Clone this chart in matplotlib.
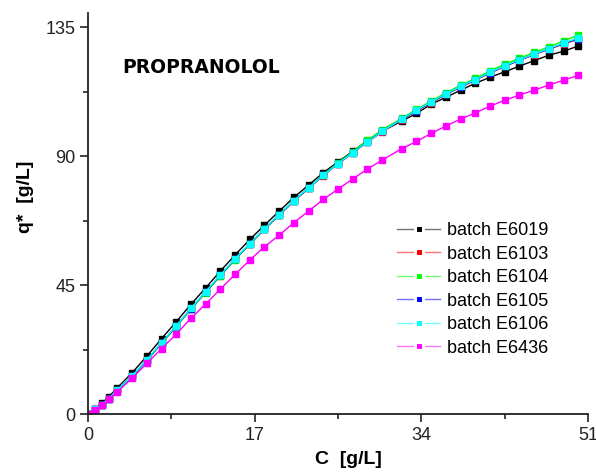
import numpy as np
import matplotlib
matplotlib.use("Agg")
import matplotlib.pyplot as plt
from matplotlib.lines import Line2D
from matplotlib.ticker import MultipleLocator
import matplotlib.colors as mcolors

plt.rcParams['font.family'] = ['Liberation Sans', 'DejaVu Sans']

# concentration C [g/L]
c = [0, 0.7, 1.4, 2.1, 3.0, 4.5, 6.0, 7.5, 9.0, 10.5, 12.0, 13.5, 15.0, 16.5,
     18.0, 19.5, 21.0, 22.5, 24.0, 25.5, 27.0, 28.5, 30.0, 32.0, 33.5, 35.0,
     36.5, 38.0, 39.5, 41.0, 42.5, 44.0, 45.5, 47.0, 48.5, 50.0]

q_e6019 = [0, 1.8, 3.8, 6.0, 9.3, 14.5, 20.3, 26.4, 32.3, 38.4, 44.1, 50.0, 55.6,
           61.0, 66.0, 70.9, 75.7, 80.0, 84.3, 88.1, 91.8, 95.5, 98.8, 102.3,
           105.0, 108.2, 110.6, 113.1, 115.5, 117.6, 119.5, 121.5, 123.4, 125.3,
           126.7, 128.5]
q_e6103 = [0, 1.7, 3.4, 5.4, 8.4, 13.2, 18.8, 24.8, 30.7, 36.8, 42.6, 48.4, 54.1,
           59.4, 64.6, 69.5, 74.4, 78.9, 83.3, 87.4, 91.2, 95.0, 98.6, 102.8,
           105.9, 108.8, 111.6, 114.2, 116.6, 119.1, 121.4, 123.5, 125.5, 127.4,
           129.2, 130.9]
q_e6104 = [0, 1.6, 3.3, 5.3, 8.3, 13.1, 18.7, 24.7, 30.6, 36.7, 42.5, 48.3, 54.0,
           59.3, 64.6, 69.6, 74.5, 79.1, 83.6, 87.8, 91.7, 95.6, 99.3, 103.3,
           106.4, 109.3, 112.2, 114.8, 117.2, 119.8, 122.2, 124.2, 126.3, 128.2,
           130.3, 132.3]
q_e6105 = [0, 1.7, 3.4, 5.5, 8.5, 13.3, 18.9, 24.9, 30.8, 36.9, 42.7, 48.5, 54.2,
           59.5, 64.7, 69.6, 74.5, 78.9, 83.4, 87.5, 91.3, 95.1, 98.7, 102.9,
           106.0, 108.9, 111.7, 114.3, 116.7, 119.2, 121.5, 123.6, 125.6, 127.5,
           129.4, 131.1]
q_e6106 = [0, 1.7, 3.4, 5.5, 8.6, 13.4, 19.0, 25.0, 30.9, 37.0, 42.8, 48.6, 54.3,
           59.6, 64.8, 69.7, 74.6, 79.0, 83.4, 87.5, 91.3, 95.1, 98.7, 103.0,
           106.1, 109.0, 111.8, 114.4, 116.8, 119.3, 121.6, 123.7, 125.7, 127.6,
           129.5, 131.3]
q_e6436 = [0, 1.5, 3.2, 5.2, 7.9, 12.6, 17.8, 22.9, 28.0, 33.5, 38.5, 43.7, 48.8,
           53.8, 58.5, 62.5, 66.9, 70.9, 75.0, 78.6, 82.1, 85.6, 88.7, 92.7,
           95.2, 98.0, 100.6, 103.0, 105.2, 107.5, 109.6, 111.4, 113.1, 114.9,
           116.6, 118.3]

labels = ['batch E6019', 'batch E6103', 'batch E6104', 'batch E6105',
          'batch E6106', 'batch E6436']
series = [q_e6019, q_e6103, q_e6104, q_e6105, q_e6106, q_e6436]
colors = ['black', '#ff0000', '#00ff00', '#0000ff', '#00ffff', '#ff00ff']

fig = plt.figure(figsize=(5.96, 4.75), dpi=100)
ax = fig.add_axes([0.1477, 0.1278, 0.8389, 0.8446])

for y, col in zip(series, colors):
    ax.plot(c, y, color=col, lw=1.0, marker='s', ms=4.0, mec=col, mfc=col)

ax.set_xlim(0, 51)
ax.set_ylim(0, 140)
ax.spines['top'].set_visible(False)
ax.spines['right'].set_visible(False)
for s in ['left', 'bottom']:
    ax.spines[s].set_linewidth(1.3)
    ax.spines[s].set_color('#222222')

ax.xaxis.set_major_locator(MultipleLocator(17))
ax.xaxis.set_minor_locator(MultipleLocator(8.5))
ax.set_yticks([0, 45, 90, 135])
ax.yaxis.set_minor_locator(MultipleLocator(22.5))
ax.tick_params(which='major', direction='out', length=6, width=1.2,
               labelsize=13, color='#222222', labelcolor='#222222', pad=3)
ax.tick_params(which='minor', direction='out', length=3.5, width=1.2,
               color='#222222')

fig.text(0.584, 0.032, 'C  [g/L]', ha='center', va='center',
         fontsize=14, fontweight='bold')
fig.text(0.042, 0.585, 'q*  [g/L]', ha='center', va='center', rotation=90,
         fontsize=14, fontweight='bold')
fig.text(0.205, 0.857, 'PROPRANOLOL', ha='left', va='center',
         fontsize=13.5, fontweight='bold', family='DejaVu Sans')

def lighten(col, f=0.45):
    r, g, b = mcolors.to_rgb(col)
    return (r + (1 - r) * f, g + (1 - g) * f, b + (1 - b) * f)

handles = [Line2D([], [], color=lighten(col), lw=1.0, marker='s', ms=6,
                  mfc=col, mec='white', mew=2.2) for col in colors]
ax.legend(handles, labels, loc='upper left', bbox_to_anchor=(0.666, 0.532),
          bbox_transform=fig.transFigure, frameon=False, fontsize=13,
          handlelength=2.4, handletextpad=0.35, labelspacing=0.36,
          borderaxespad=0, borderpad=0)

fig.savefig('out.png', dpi=100)
